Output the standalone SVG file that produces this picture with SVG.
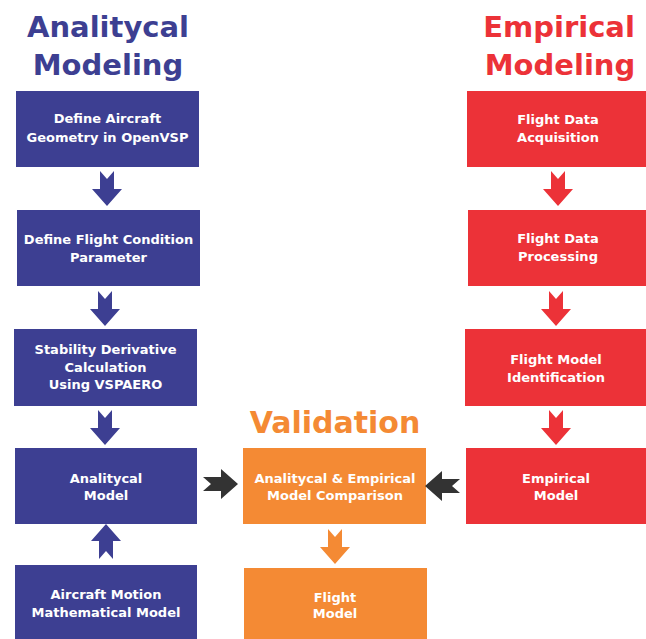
<svg xmlns="http://www.w3.org/2000/svg" width="646" height="639" viewBox="0 0 646 639">
<style>
.blue{fill:#3d3f92}
.red{fill:#ec3238}
.orange{fill:#f48a34}
.dark{fill:#333333}
.t{font-family:"DejaVu Sans","Liberation Sans",sans-serif;font-weight:bold;font-size:13px;fill:#ffffff;text-anchor:middle}
.title{font-family:"DejaVu Sans","Liberation Sans",sans-serif;font-weight:bold;font-size:29px;text-anchor:middle}
</style>
<defs>
<path id="arr" d="M -7,0 L 0,8 L 7,0 L 7,18 L 15,18 L 0,35 L -15,18 L -7,18 Z"/>
</defs>
<rect width="646" height="639" fill="#ffffff"/>

<g id="titles">
<text class="title" x="108" y="37" fill="#3d3f92">Analitycal</text>
<text class="title" x="108" y="75" fill="#3d3f92">Modeling</text>
<text class="title" x="559" y="37" fill="#ec3238">Empirical</text>
<text class="title" x="560" y="75" fill="#ec3238">Modeling</text>
<text class="title" x="335" y="433" fill="#f48a34" style="font-size:30px">Validation</text>
</g>

<g id="define-geometry">
<rect class="blue" x="16" y="91" width="183" height="76"/>
<text class="t" x="107.5" y="123">Define Aircraft</text>
<text class="t" x="107.5" y="142">Geometry in OpenVSP</text>
</g>
<g id="flight-condition">
<rect class="blue" x="17" y="210" width="183" height="76"/>
<text class="t" x="108.5" y="244">Define Flight Condition</text>
<text class="t" x="108.5" y="262">Parameter</text>
</g>
<g id="stability-derivative">
<rect class="blue" x="14" y="329" width="183" height="77"/>
<text class="t" x="105.5" y="354">Stability Derivative</text>
<text class="t" x="105.5" y="372">Calculation</text>
<text class="t" x="105.5" y="389">Using VSPAERO</text>
</g>
<g id="analitycal-model">
<rect class="blue" x="15" y="448" width="182" height="76"/>
<text class="t" x="106" y="483">Analitycal</text>
<text class="t" x="106" y="500">Model</text>
</g>
<g id="motion-model">
<rect class="blue" x="15" y="565" width="182" height="74"/>
<text class="t" x="106" y="599">Aircraft Motion</text>
<text class="t" x="106" y="617">Mathematical Model</text>
</g>

<g id="data-acquisition">
<rect class="red" x="467" y="91" width="179" height="76"/>
<text class="t" x="558" y="124">Flight Data</text>
<text class="t" x="558" y="142">Acquisition</text>
</g>
<g id="data-processing">
<rect class="red" x="468" y="210" width="178" height="76"/>
<text class="t" x="558" y="243">Flight Data</text>
<text class="t" x="558" y="261">Processing</text>
</g>
<g id="model-identification">
<rect class="red" x="465" y="329" width="181" height="77"/>
<text class="t" x="556" y="364">Flight Model</text>
<text class="t" x="556" y="382">Identification</text>
</g>
<g id="empirical-model">
<rect class="red" x="466" y="448" width="180" height="76"/>
<text class="t" x="556" y="483">Empirical</text>
<text class="t" x="556" y="500">Model</text>
</g>

<g id="model-comparison">
<rect class="orange" x="243" y="448" width="183" height="76"/>
<text class="t" x="335" y="483">Analitycal &amp; Empirical</text>
<text class="t" x="335" y="500">Model Comparison</text>
</g>
<g id="flight-model">
<rect class="orange" x="244" y="568" width="183" height="71"/>
<text class="t" x="335" y="602">Flight</text>
<text class="t" x="335" y="618">Model</text>
</g>

<g id="connectors">
<use href="#arr" class="blue" transform="translate(107,171)"/>
<use href="#arr" class="blue" transform="translate(105,291)"/>
<use href="#arr" class="blue" transform="translate(105,410)"/>
<use href="#arr" class="blue" transform="translate(106,559) rotate(180)"/>
<use href="#arr" class="red" transform="translate(558,171)"/>
<use href="#arr" class="red" transform="translate(556,291)"/>
<use href="#arr" class="red" transform="translate(556,410)"/>
<use href="#arr" class="orange" transform="translate(335,529)"/>
<use href="#arr" class="dark" transform="translate(203,484) rotate(-90)"/>
<use href="#arr" class="dark" transform="translate(460,486) rotate(90)"/>
</g>
</svg>
